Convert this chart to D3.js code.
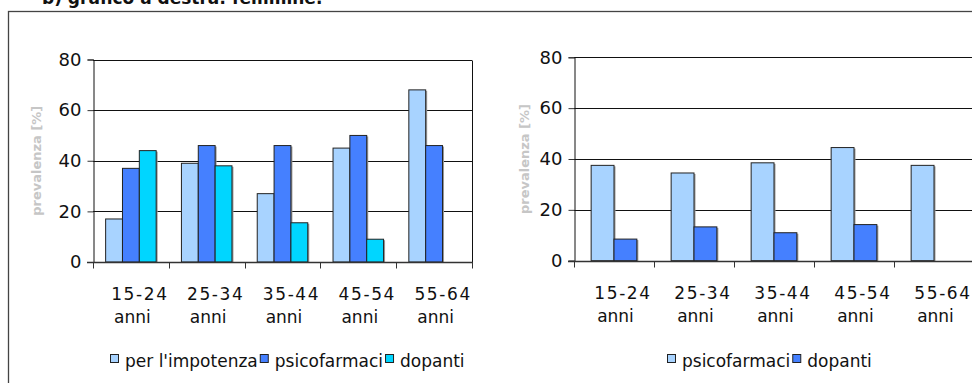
<!DOCTYPE html>
<html>
<head>
<meta charset="utf-8">
<script src="https://cdn.jsdelivr.net/npm/d3@7"></script>
<style>
  html, body { margin: 0; padding: 0; background: #fff; }
  svg { display: block; }
  text { font-family: "DejaVu Sans", Verdana, sans-serif; fill: #111; }
</style>
</head>
<body>
<svg id="chart" width="972" height="383"></svg>
<script>
// Data
const categories = ['15-24', '25-34', '35-44', '45-54', '55-64'];
const categorySuffix = 'anni';
const yTicks = [0, 20, 40, 60, 80];

// left chart
const leftSeries = ["per l'impotenza", 'psicofarmaci', 'dopanti'];
const leftImpotenza = [17, 39, 27, 45, 68];
const leftPsicofarmaci = [37, 46, 46, 50, 46];
const leftDopanti = [44, 38, 15.5, 9, null];

// right chart
const rightSeries = ['psicofarmaci', 'dopanti'];
const rightPsicofarmaci = [37.5, 34.5, 38.5, 44.5, 37.5];
const rightDopanti = [8.5, 13.3, 11, 14.2, null];

const palette = ['#a8d3ff', '#4580ff', '#00d6ff'];

const svg = d3.select('#chart');

// title, mostly cut off at the top
svg.append('text')
  .attr('x', 42)
  .attr('y', 4)
  .attr('font-size', '17px')
  .attr('font-weight', 'bold')
  .text('b) grafico a destra: femmine.');

// outer frame
svg.append('rect')
  .attr('x', 8.5).attr('y', 11.5)
  .attr('width', 1000).attr('height', 400)
  .attr('fill', 'none')
  .attr('stroke', '#444')
  .attr('stroke-width', 1.3);

function drawChart(cfg) {
  const g = svg.append('g');
  const x0 = d3.scaleBand().domain(categories).range([cfg.left, cfg.right]);
  const x1 = d3.scaleBand().domain(cfg.series)
    .range([0, x0.bandwidth()]).paddingInner(0).paddingOuter(0.75);
  const y = d3.scaleLinear().domain([0, 80]).range([cfg.zero, cfg.top]);

  const rows = categories.map((c, i) => ({
    cat: c,
    vals: cfg.series.map((s, k) => ({ s, k, v: cfg.values[k][i] }))
  }));

  // gridlines
  g.selectAll('line.grid')
    .data(yTicks.filter(d => d > 0))
    .join('line')
    .attr('class', 'grid')
    .attr('x1', cfg.left).attr('x2', cfg.right)
    .attr('y1', d => Math.round(y(d)) + 0.5)
    .attr('y2', d => Math.round(y(d)) + 0.5)
    .attr('stroke', '#111');

  // right border of plot area
  g.append('line')
    .attr('x1', cfg.right + 0.5).attr('x2', cfg.right + 0.5)
    .attr('y1', Math.round(y(80)) + 0.5).attr('y2', y(0))
    .attr('stroke', '#111');

  // bars
  const groups = g.selectAll('g.cat')
    .data(rows)
    .join('g')
    .attr('class', 'cat')
    .attr('transform', d => `translate(${x0(d.cat)},0)`);

  const bars = groups.selectAll('g.bar')
    .data(d => d.vals.filter(v => v.v != null))
    .join('g')
    .attr('class', 'bar');

  // small shadow
  bars.append('rect')
    .attr('x', d => x1(d.s) + 1.5)
    .attr('y', d => y(d.v) + 1)
    .attr('width', x1.bandwidth())
    .attr('height', d => y(0) - y(d.v))
    .attr('fill', '#9a9a9a');

  bars.append('rect')
    .attr('x', d => x1(d.s))
    .attr('y', d => y(d.v))
    .attr('width', x1.bandwidth())
    .attr('height', d => y(0) - y(d.v))
    .attr('fill', d => cfg.colors[d.k])
    .attr('stroke', '#222')
    .attr('stroke-width', 1);

  // y axis
  const yAxis = g.append('g')
    .attr('transform', `translate(${cfg.left + 0.5},0)`)
    .call(d3.axisLeft(y).tickValues(yTicks).tickSize(6).tickPadding(6));
  yAxis.select('.domain').attr('stroke', '#111');
  yAxis.selectAll('.tick line').attr('stroke', '#333');
  yAxis.selectAll('.tick text')
    .attr('font-size', '18px')
    .attr('font-family', '"DejaVu Sans", Verdana, sans-serif')
    .attr('fill', '#111');

  // x axis (baseline with category boundary ticks)
  const xAxis = g.append('g')
    .attr('transform', `translate(0,${Math.round(y(0)) + 0.5})`);
  xAxis.append('line')
    .attr('x1', cfg.left - 6).attr('x2', cfg.right + 1)
    .attr('stroke', '#333').attr('stroke-width', 1.3);
  const bounds = categories.map(c => x0(c)).concat([cfg.right]);
  xAxis.selectAll('line.xt')
    .data(bounds)
    .join('line')
    .attr('class', 'xt')
    .attr('x1', d => Math.round(d) + 0.5).attr('x2', d => Math.round(d) + 0.5)
    .attr('y1', 0).attr('y2', 6)
    .attr('stroke', '#333');

  const labels = xAxis.selectAll('g.xl')
    .data(categories)
    .join('g')
    .attr('class', 'xl')
    .attr('transform', d => `translate(${x0(d) + x0.bandwidth() / 2},0)`);
  labels.append('text')
    .attr('x', 9)
    .attr('y', 37)
    .attr('text-anchor', 'middle')
    .attr('font-size', '17px')
    .attr('letter-spacing', '1.6px')
    .text(d => d);
  labels.append('text')
    .attr('x', 1.5)
    .attr('y', 60)
    .attr('text-anchor', 'middle')
    .attr('font-size', '17px')
    .text(categorySuffix);

  // y axis title
  g.append('text')
    .attr('transform', `translate(${cfg.titleX},${(y(0) + y(80)) / 2}) rotate(-90)`)
    .attr('text-anchor', 'middle')
    .attr('font-size', '13px')
    .attr('font-weight', 'bold')
    .style('fill', '#c6c6c6')
    .text('prevalenza [%]');

  // legend
  const legend = g.append('g').attr('transform', `translate(${cfg.legendX},354)`);
  let lx = 0;
  cfg.series.forEach((s, k) => {
    legend.append('rect')
      .attr('x', lx + 0.5).attr('y', 0.5)
      .attr('width', 8).attr('height', 8)
      .attr('fill', cfg.colors[k])
      .attr('stroke', '#222');
    const t = legend.append('text')
      .attr('x', lx + 15)
      .attr('y', 13)
      .attr('font-size', '17px')
      .text(s);
    lx += 15 + t.node().getComputedTextLength() + 2;
  });
}

drawChart({
  left: 93, right: 472, top: 59.5, zero: 262,
  series: leftSeries,
  values: [leftImpotenza, leftPsicofarmaci, leftDopanti],
  colors: palette,
  titleX: 41,
  legendX: 110
});

drawChart({
  left: 574, right: 974, top: 57.3, zero: 260.7,
  series: rightSeries,
  values: [rightPsicofarmaci, rightDopanti],
  colors: palette.slice(0, 2),
  titleX: 529,
  legendX: 667
});
</script>
</body>
</html>
